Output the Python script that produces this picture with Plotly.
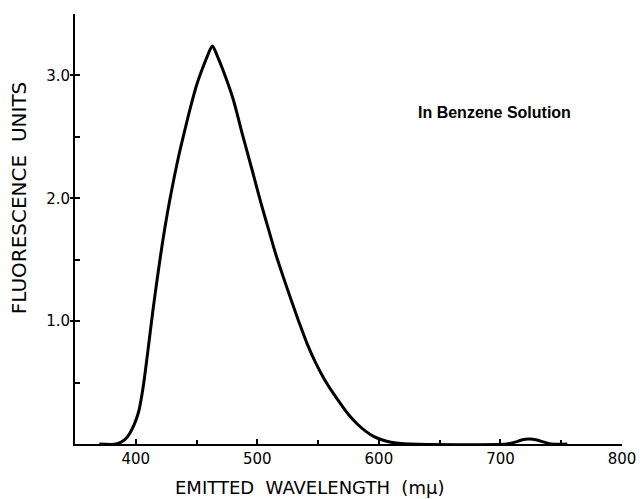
import plotly.graph_objects as go

wavelength = [370, 384, 391, 395, 402, 406, 410, 414, 418, 422, 426, 430, 435, 440,
              445, 450, 455, 459, 463, 467, 471.5, 480, 488, 496, 503, 510, 515,
              522, 529, 534, 541, 548, 555, 562, 569, 575, 582, 589, 596, 603, 610,
              616, 625, 705, 712, 718, 724, 730, 736, 742, 755]
fluorescence = [0, 0, 0.035, 0.085, 0.25, 0.46, 0.76, 1.08, 1.37, 1.64, 1.88, 2.09,
                2.33, 2.54, 2.74, 2.92, 3.06, 3.16, 3.24, 3.16, 3.05, 2.81, 2.51,
                2.22, 1.96, 1.72, 1.55, 1.34, 1.14, 1.00, 0.815, 0.66, 0.53, 0.42,
                0.32, 0.24, 0.165, 0.105, 0.06, 0.033, 0.015, 0.006, 0, 0, 0.015,
                0.035, 0.04, 0.032, 0.015, 0, 0]

x_tick_vals = [400, 500, 600, 700, 800]
x_tick_text = ["400", "500", "600", "700", "800"]
y_tick_vals = [1, 2, 3]
y_tick_text = ["1.0", "2.0", "3.0"]

fig = go.Figure()
fig.add_trace(go.Scatter(
    x=wavelength, y=fluorescence, mode="lines",
    line=dict(color="black", width=3, shape="spline", smoothing=0.8),
    cliponaxis=False, showlegend=False, hoverinfo="skip"))
# invisible trace to carry the overlay axis with outer tick marks
fig.add_trace(go.Scatter(x=[wavelength[0]], y=[fluorescence[0]], yaxis="y2",
                         mode="markers", marker=dict(opacity=0),
                         showlegend=False, hoverinfo="skip"))

axis_font = dict(family="DejaVu Sans", size=15, color="black")

fig.update_layout(
    width=640, height=499,
    margin=dict(l=75, r=18, t=14, b=55),
    paper_bgcolor="white", plot_bgcolor="white",
    xaxis=dict(range=[350, 800], tickvals=x_tick_vals, ticktext=x_tick_text,
               ticks="inside", ticklen=5, tickwidth=1.5, tickcolor="black",
               minor=dict(ticks="inside", ticklen=4, tickwidth=1.5,
                          tickcolor="black", tick0=0, dtick=50),
               showline=True, linecolor="black", linewidth=2,
               showgrid=False, zeroline=False, tickfont=axis_font,
               automargin=False),
    yaxis=dict(range=[0, 3.5], tickvals=y_tick_vals, ticktext=y_tick_text,
               ticks="inside", ticklen=5, tickwidth=1.5, tickcolor="black",
               minor=dict(ticks="inside", ticklen=5, tickwidth=1.5,
                          tickcolor="black", tick0=0, dtick=0.5),
               showline=True, linecolor="black", linewidth=2,
               showgrid=False, zeroline=False, tickfont=axis_font,
               automargin=False),
    yaxis2=dict(range=[0, 3.5], overlaying="y", side="left",
                tickvals=y_tick_vals, ticks="outside", ticklen=4, tickwidth=1.5,
                tickcolor="black", showticklabels=False, showline=False,
                showgrid=False, zeroline=False, automargin=False),
    annotations=[
        dict(x=695, y=2.70, xref="x", yref="y",
             text="<b>In Benzene Solution</b>", showarrow=False,
             xanchor="center", yanchor="middle",
             font=dict(family="Liberation Sans", size=16, color="black")),
        dict(x=0.428, y=-0.10, xref="paper", yref="paper",
             text="EMITTED  WAVELENGTH  (mµ)", showarrow=False,
             xanchor="center", yanchor="middle",
             font=dict(family="DejaVu Sans", size=18, color="black")),
        dict(x=-0.102, y=0.572, xref="paper", yref="paper", textangle=-90,
             text="FLUORESCENCE  UNITS", showarrow=False,
             xanchor="center", yanchor="middle",
             font=dict(family="DejaVu Sans", size=20, color="black")),
    ],
)

fig.write_html(
    "out.html",
    config={"displayModeBar": False},
    post_script="document.body.style.margin='0';document.body.style.overflow='hidden';",
)
